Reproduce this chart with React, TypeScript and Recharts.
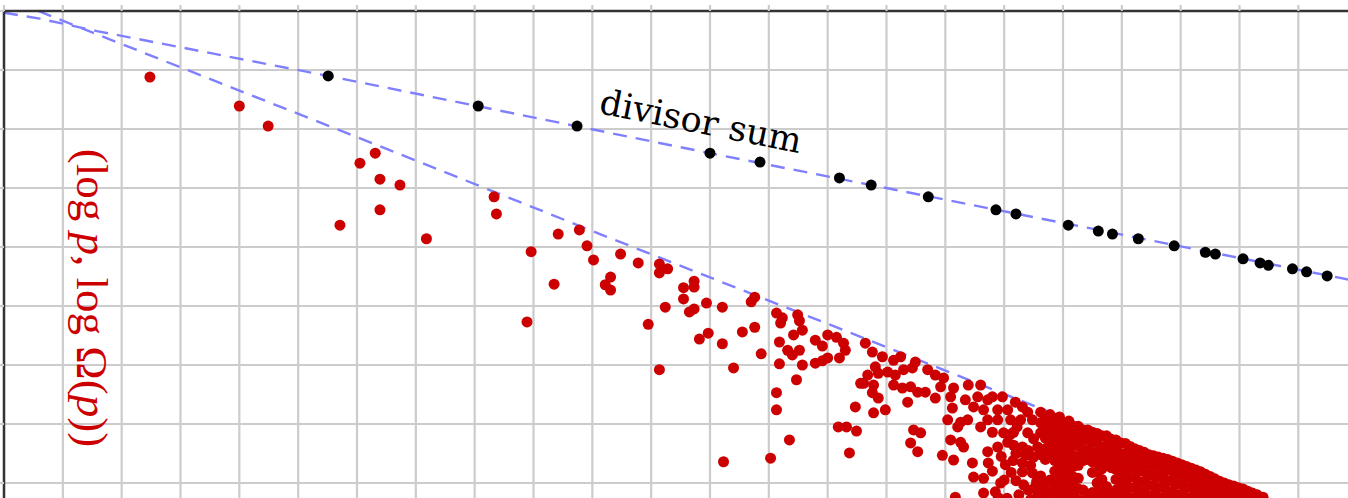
import React from 'react';
import { ComposedChart, Line, Scatter, XAxis, YAxis, CartesianGrid, Customized } from 'recharts';

// grid positions (one unit = one grid cell, y grows upward)
const xTicks = [0, 1, 2, 3, 4, 5, 6, 7, 8, 9, 10, 11, 12, 13, 14, 15, 16, 17, 18, 19, 20, 21, 22, 23, 24];
const yTicks = [-9, -8, -7, -6, -5, -4, -3, -2, -1, 0];
// grid lines inside the frame (the axis lines sit on 0)
const xGrid = [1, 2, 3, 4, 5, 6, 7, 8, 9, 10, 11, 12, 13, 14, 15, 16, 17, 18, 19, 20, 21, 22, 23, 24];
const yGrid = [-9, -8, -7, -6, -5, -4, -3, -2, -1];

// dashed reference curves
const divisorLine = [
  { x: 0, y: -0.03 }, { x: 0.61, y: -0.13 }, { x: 1.58, y: -0.34 }, { x: 5.51, y: -1.1 },
  { x: 12.0, y: -2.41 }, { x: 18.09, y: -3.61 }, { x: 24, y: -4.78 },
];
const boundLine = [
  { x: 0.58, y: 0 }, { x: 5.83, y: -2.07 }, { x: 10.13, y: -3.78 }, { x: 14.3, y: -5.42 },
  { x: 21.23, y: -8.17 }, { x: 23.44, y: -9.0 },
];

// black points on the divisor sum line
const divisorPoints = [
  { x: 5.51, y: -1.1 }, { x: 8.06, y: -1.61 }, { x: 9.74, y: -1.95 }, { x: 12.0, y: -2.41 },
  { x: 12.85, y: -2.56 }, { x: 14.2, y: -2.83 }, { x: 14.74, y: -2.95 }, { x: 15.71, y: -3.15 },
  { x: 16.86, y: -3.37 }, { x: 17.2, y: -3.44 }, { x: 18.09, y: -3.63 }, { x: 18.6, y: -3.73 },
  { x: 18.84, y: -3.78 }, { x: 19.28, y: -3.86 }, { x: 19.89, y: -3.98 }, { x: 20.42, y: -4.09 },
  { x: 20.59, y: -4.12 }, { x: 21.06, y: -4.2 }, { x: 21.35, y: -4.27 }, { x: 21.49, y: -4.31 },
  { x: 21.9, y: -4.37 }, { x: 22.14, y: -4.42 }, { x: 22.49, y: -4.49 },
];

// red points, scattered part
const redSparse = [
  { x: 2.48, y: -1.12 }, { x: 4.0, y: -1.61 }, { x: 4.49, y: -1.95 }, { x: 5.71, y: -3.63 },
  { x: 6.05, y: -2.58 }, { x: 6.31, y: -2.41 }, { x: 6.39, y: -2.85 }, { x: 6.73, y: -2.95 },
  { x: 6.39, y: -3.37 }, { x: 7.18, y: -3.86 }, { x: 8.33, y: -3.15 }, { x: 8.37, y: -3.44 },
  { x: 8.96, y: -4.08 }, { x: 9.42, y: -3.78 }, { x: 9.78, y: -3.71 }, { x: 9.91, y: -3.98 },
  { x: 10.02, y: -4.22 }, { x: 9.35, y: -4.63 }, { x: 8.89, y: -5.27 }, { x: 10.22, y: -4.64 },
  { x: 10.31, y: -4.51 }, { x: 10.31, y: -4.73 }, { x: 10.48, y: -4.12 }, { x: 10.78, y: -4.27 },
  { x: 11.14, y: -4.29 }, { x: 11.28, y: -4.37 }, { x: 11.14, y: -4.44 }, { x: 11.73, y: -4.58 },
  { x: 11.73, y: -4.68 }, { x: 11.55, y: -4.69 }, { x: 11.55, y: -4.88 }, { x: 11.94, y: -4.95 },
  { x: 12.21, y: -5.02 }, { x: 11.24, y: -5.02 }, { x: 11.73, y: -5.05 }, { x: 11.65, y: -5.1 },
  { x: 12.7, y: -4.93 }, { x: 12.76, y: -4.85 }, { x: 10.95, y: -5.31 }, { x: 11.97, y: -5.46 },
  { x: 11.82, y: -5.56 }, { x: 12.21, y: -5.64 }, { x: 12.55, y: -5.44 }, { x: 12.76, y: -5.36 },
  { x: 12.87, y: -5.81 }, { x: 12.4, y: -6.05 }, { x: 11.14, y: -6.08 }, { x: 13.13, y: -5.12 },
  { x: 13.23, y: -5.2 }, { x: 13.2, y: -5.29 }, { x: 13.49, y: -5.15 }, { x: 13.52, y: -5.25 },
  { x: 13.57, y: -5.41 }, { x: 13.42, y: -5.49 }, { x: 13.18, y: -5.61 }, { x: 13.32, y: -5.75 },
  { x: 13.4, y: -5.83 }, { x: 13.52, y: -5.75 }, { x: 13.79, y: -5.58 }, { x: 13.91, y: -5.68 },
  { x: 14.0, y: -5.49 }, { x: 14.15, y: -5.53 }, { x: 14.27, y: -5.63 }, { x: 14.3, y: -5.75 },
  { x: 14.2, y: -5.88 }, { x: 14.0, y: -5.88 }, { x: 13.91, y: -5.93 }, { x: 13.79, y: -5.97 },
  { x: 13.57, y: -6.0 }, { x: 13.18, y: -5.98 }, { x: 13.47, y: -6.25 }, { x: 13.13, y: -6.47 },
  { x: 13.13, y: -6.76 }, { x: 13.35, y: -7.27 }, { x: 13.03, y: -7.58 }, { x: 12.23, y: -7.64 },
  { x: 14.18, y: -7.05 }, { x: 14.32, y: -7.05 }, { x: 14.47, y: -6.71 }, { x: 14.49, y: -7.12 },
  { x: 14.37, y: -7.49 }, { x: 14.56, y: -6.31 },
  { x: 14.64, y: -5.63 }, { x: 14.76, y: -5.78 }, { x: 14.93, y: -5.86 }, { x: 14.81, y: -6.03 },
  { x: 15.12, y: -5.92 }, { x: 15.24, y: -5.86 }, { x: 15.49, y: -5.95 }, { x: 14.68, y: -6.17 },
  { x: 14.61, y: -6.31 }, { x: 14.86, y: -6.14 }, { x: 15.02, y: -6.12 }, { x: 15.15, y: -6.17 },
  { x: 15.29, y: -6.08 }, { x: 15.44, y: -6.05 }, { x: 15.12, y: -6.34 }, { x: 14.78, y: -6.34 },
  { x: 14.76, y: -6.47 }, { x: 14.86, y: -6.56 }, { x: 14.98, y: -6.76 }, { x: 14.78, y: -6.81 },
  { x: 15.27, y: -6.39 }, { x: 15.36, y: -6.63 }, { x: 15.41, y: -6.37 }, { x: 15.53, y: -6.46 },
  { x: 15.66, y: -6.46 }, { x: 15.7, y: -6.08 }, { x: 15.83, y: -6.17 }, { x: 15.97, y: -6.22 },
  { x: 15.92, y: -6.37 }, { x: 15.83, y: -6.56 }, { x: 16.09, y: -6.54 }, { x: 16.14, y: -6.39 },
  { x: 16.12, y: -6.73 }, { x: 16.39, y: -6.34 }, { x: 16.6, y: -6.34 }, { x: 16.34, y: -6.59 },
  { x: 16.55, y: -6.54 }, { x: 16.48, y: -6.71 }, { x: 16.72, y: -6.59 }, { x: 16.8, y: -6.54 },
  { x: 16.97, y: -6.54 }, { x: 17.19, y: -6.63 }, { x: 17.31, y: -6.71 }, { x: 17.4, y: -6.8 },
  { x: 16.65, y: -6.76 }, { x: 16.89, y: -6.76 }, { x: 17.06, y: -6.76 }, { x: 16.72, y: -6.93 },
  { x: 16.89, y: -6.93 }, { x: 17.11, y: -6.93 }, { x: 17.28, y: -6.93 }, { x: 17.48, y: -6.93 },
  { x: 16.6, y: -7.05 }, { x: 16.8, y: -7.14 }, { x: 16.99, y: -7.15 }, { x: 17.16, y: -7.14 },
  { x: 17.4, y: -7.15 }, { x: 16.04, y: -6.93 }, { x: 16.26, y: -6.97 }, { x: 16.38, y: -6.93 },
  { x: 16.21, y: -7.05 }, { x: 15.46, y: -7.1 }, { x: 15.58, y: -7.15 }, { x: 15.41, y: -7.32 },
  { x: 15.53, y: -7.47 }, { x: 15.95, y: -7.53 }, { x: 16.09, y: -7.27 }, { x: 16.26, y: -7.31 },
  { x: 16.31, y: -7.39 }, { x: 16.14, y: -7.61 }, { x: 16.46, y: -7.66 }, { x: 16.72, y: -7.47 },
  { x: 16.73, y: -7.66 }, { x: 16.89, y: -7.39 }, { x: 17.02, y: -7.69 }, { x: 17.06, y: -7.31 },
  { x: 17.16, y: -7.36 }, { x: 17.31, y: -7.39 }, { x: 17.36, y: -7.53 }, { x: 17.5, y: -7.56 },
  { x: 17.57, y: -7.39 }, { x: 17.31, y: -7.66 }, { x: 17.31, y: -7.81 }, { x: 17.48, y: -7.83 },
  { x: 16.48, y: -7.9 }, { x: 16.65, y: -7.92 }, { x: 16.94, y: -8.0 }, { x: 17.33, y: -8.03 },
  { x: 17.41, y: -8.12 }, { x: 17.57, y: -8.2 }, { x: 16.17, y: -8.24 }, { x: 16.65, y: -8.17 },
  { x: 16.95, y: -7.55 }, { x: 17.2, y: -7.5 }, { x: 17.12, y: -7.82 }, { x: 17.2, y: -7.96 },
  { x: 16.85, y: -8.15 }, { x: 17.05, y: -8.26 }, { x: 17.45, y: -8.28 }, { x: 17.55, y: -7.98 },
  { x: 17.15, y: -7.62 }, { x: 17.25, y: -8.2 }, { x: 16.8, y: -7.8 },
  { x: 17.41, y: -7.45 }, { x: 17.45, y: -7.7 }, { x: 17.52, y: -8.08 }, { x: 17.1, y: -7.18 },
  { x: 17.0, y: -7.95 }, { x: 16.9, y: -8.25 }, { x: 17.5, y: -7.25 }, { x: 17.22, y: -7.05 },
];

// red points, dense cloud at the lower right, read column by column
const denseColumnX = [
  17.62, 17.7, 17.78, 17.86, 17.94, 18.02, 18.1, 18.18, 18.26, 18.34, 18.42, 18.5, 18.58,
  18.66, 18.74, 18.82, 18.9, 18.98, 19.06, 19.14, 19.22, 19.3, 19.38, 19.46, 19.54, 19.62,
  19.7, 19.78, 19.86, 19.94, 20.02, 20.1, 20.18, 20.26, 20.34, 20.42, 20.5, 20.58, 20.66,
  20.74, 20.82, 20.9, 20.98, 21.06, 21.14, 21.22, 21.3, 21.4,
];
const denseColumnY = [
  [-6.8, -6.98, -7.15, -7.52, -7.88, -8.1, -8.28],
  [-6.9, -7.07, -7.24, -7.42, -7.6, -8.0, -8.2],
  [-6.84, -7.0, -7.17, -7.34, -7.5, -7.95, -8.15],
  [-6.94, -7.1, -7.28, -7.45, -7.62, -7.8, -8.02, -8.22],
  [-6.88, -7.05, -7.22, -7.4, -7.57, -7.74, -7.92, -8.1, -8.28],
  [-6.98, -7.15, -7.32, -7.5, -7.68, -7.86, -8.04, -8.22],
  [-6.95, -7.12, -7.28, -7.46, -7.62, -7.8, -7.98, -8.16],
  [-7.04, -7.2, -7.36, -7.54, -7.72, -7.9, -8.06, -8.24],
  [-7.04, -7.2, -7.37, -7.55, -7.7, -7.92, -8.1, -8.28],
  [-7.1, -7.28, -7.46, -7.62, -8.12, -8.3],
  [-7.1, -7.26, -7.44, -7.6, -8.24],
  [-7.14, -7.3, -7.48, -7.64, -7.82, -8.16, -8.3],
  [-7.16, -7.32, -7.5, -7.66, -7.82, -8.0, -8.18],
  [-7.2, -7.4, -7.58, -7.76, -7.94, -8.12, -8.28],
  [-7.2, -7.36, -7.54, -7.7, -8.06, -8.24],
  [-7.26, -7.42, -7.58, -7.74, -8.18],
  [-7.27, -7.44, -7.6, -7.77, -7.94, -8.12, -8.28],
  [-7.32, -7.5, -7.68, -7.86, -8.04, -8.22],
  [-7.33, -7.5, -7.66, -7.83, -8.0, -8.18],
  [-7.38, -7.54, -7.72, -7.9, -8.08, -8.26],
  [-7.42, -7.58, -7.74, -7.91, -8.08, -8.25],
  [-7.45, -7.62, -7.8, -7.98, -8.16],
  [-7.48, -7.64, -7.8, -7.97, -8.14, -8.3],
  [-7.52, -7.68, -7.86, -8.04, -8.22],
  [-7.54, -7.7, -7.87, -8.04, -8.2],
  [-7.56, -7.72, -7.9, -8.08, -8.26],
  [-7.58, -7.75, -7.92, -8.08, -8.25],
  [-7.6, -7.78, -7.96, -8.14, -8.3],
  [-7.63, -7.8, -7.97, -8.14, -8.3],
  [-7.66, -7.84, -8.02, -8.2],
  [-7.69, -7.86, -8.03, -8.2],
  [-7.72, -7.9, -8.08, -8.26],
  [-7.75, -7.92, -8.08, -8.25],
  [-7.78, -7.95, -8.12, -8.28],
  [-7.81, -7.98, -8.15, -8.3],
  [-7.85, -8.02, -8.2],
  [-7.89, -8.06, -8.22],
  [-7.93, -8.1, -8.27],
  [-7.97, -8.14, -8.3],
  [-8.0, -8.17],
  [-8.03, -8.2],
  [-8.05, -8.22],
  [-8.08, -8.25],
  [-8.1, -8.27],
  [-8.14, -8.3],
  [-8.17],
  [-8.2],
  [-8.24],
];

const redDense = denseColumnX.flatMap((x, i) => denseColumnY[i].map((y) => ({ x, y })));

const RED = '#cc0000';
const SERIF = "'DejaVu Serif', 'Liberation Serif', serif";
const TIMES = "'Liberation Serif', serif";

const dot = (color: string) => (props: any) => (
  <circle cx={props.cx} cy={props.cy} r={5.5} fill={color} />
);

const noLabel = () => '';

const Labels = () => (
  <g>
    <text
      x={92}
      y={298}
      transform="rotate(90 92 298)"
      textAnchor="middle"
      dominantBaseline="central"
      fill={RED}
      fontFamily={TIMES}
      fontSize={45}
    >
      (log <tspan fontStyle="italic">p</tspan>, log Ω(<tspan fontStyle="italic">p</tspan>))
    </text>
    <text x={598} y={113} transform="rotate(11.3 598 113)" fill="#000" fontFamily={SERIF} fontSize={35}>
      divisor sum
    </text>
  </g>
);

export default function App() {
  return (
    <div style={{ position: 'absolute', left: 0, top: 0, width: 1348, height: 498, overflow: 'hidden', background: '#fff' }}>
      <ComposedChart width={1416} height={542} margin={{ top: 10, right: 0, bottom: 0, left: 3 }}>
        <CartesianGrid stroke="#cccccc" strokeWidth={2.2} horizontalValues={yGrid} verticalValues={xGrid} />
        <XAxis
          type="number"
          dataKey="x"
          orientation="top"
          domain={[0, 24]}
          ticks={xTicks}
          interval={0}
          height={1}
          tickFormatter={noLabel}
          tickSize={6}
          stroke="#333333"
          tickLine={{ stroke: '#cccccc', strokeWidth: 2.2 }}
          axisLine={{ stroke: '#333333', strokeWidth: 2.5 }}
          allowDataOverflow
        />
        <YAxis
          type="number"
          dataKey="y"
          domain={[-9, 0]}
          ticks={yTicks}
          interval={0}
          width={1}
          tickFormatter={noLabel}
          tickSize={5}
          stroke="#333333"
          tickLine={{ stroke: '#cccccc', strokeWidth: 2.2 }}
          axisLine={{ stroke: '#333333', strokeWidth: 2.5 }}
          allowDataOverflow
        />
        <Line data={divisorLine} dataKey="y" type="linear" stroke="#8080ff" strokeWidth={2.4} strokeDasharray="14 9" dot={false} isAnimationActive={false} />
        <Line data={boundLine} dataKey="y" type="linear" stroke="#8080ff" strokeWidth={2.4} strokeDasharray="14 9" dot={false} isAnimationActive={false} />
        <Scatter data={divisorPoints} fill="#000" shape={dot('#000')} isAnimationActive={false} />
        <Scatter data={redSparse} fill={RED} shape={dot(RED)} isAnimationActive={false} />
        <Scatter data={redDense} fill={RED} shape={dot(RED)} isAnimationActive={false} />
        <Customized component={Labels} />
      </ComposedChart>
    </div>
  );
}
